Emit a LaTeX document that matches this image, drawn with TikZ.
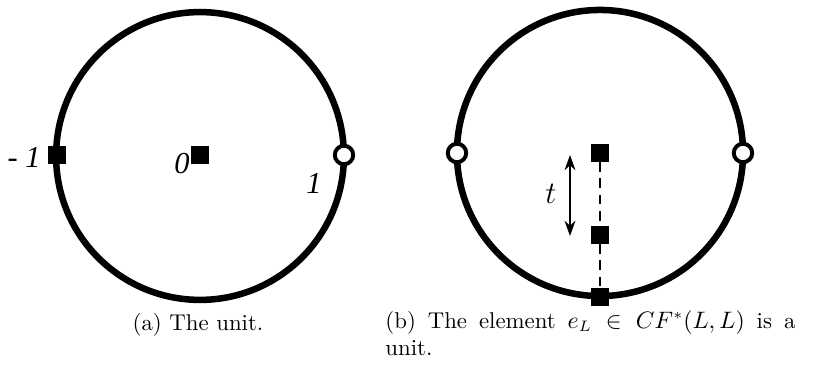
\documentclass[tikz,border=0pt]{standalone}
\usepackage{fontspec}
\newfontfamily\lblfont{Liberation Serif}
\usetikzlibrary{arrows.meta}
\begin{document}
\begin{tikzpicture}[x=0.46pt,y=-0.46pt,
  bigcirc/.style={line width=3pt},
  sq/.style={fill=black,minimum size=8.3pt,inner sep=0pt,outer sep=0pt},
  hole/.style={circle,draw=black,fill=white,line width=1.8pt,minimum size=8.5pt,inner sep=0pt},
  lbl/.style={font=\lblfont\itshape\fontsize{14}{16}\selectfont,inner sep=0pt},
  captext/.style={font=\fontsize{10.5}{12.4}\selectfont,inner sep=0pt}]
\useasboundingbox (0,0) rectangle (814,378);
% (a)
\coordinate (ca) at (200,156);
\draw[bigcirc] (ca) circle[radius=66.2pt];
\node[sq] (am) at (57,155) {};
\node[sq] (a0) at (200,155) {};
\node[hole] (a1) at (344,155) {};
\node[lbl] (lm) at (24,157) {- 1};
\node[lbl] (l0) at (182,164) {0};
\node[lbl] (l1) at (314,183) {1};
\node[captext] (capa) at (198,325) {(a) The unit.};
% (b)
\coordinate (cb) at (600,153);
\draw[bigcirc] (cb) circle[radius=65.8pt];
\node[hole] (bl) at (457,153) {};
\node[hole] (br) at (743,153) {};
\node[sq] (bt) at (600,153) {};
\node[sq] (bm) at (600,235) {};
\node[sq] (bb) at (600,297) {};
\draw[line width=0.9pt,dash pattern=on 4.5pt off 3pt] (bt) -- (bm);
\draw[line width=0.9pt,dash pattern=on 4.5pt off 3pt] (bm) -- (bb);
\coordinate (at) at (570,155);
\coordinate (ab) at (570,236);
\draw[line width=0.9pt,{Stealth[length=7pt,width=5pt]}-{Stealth[length=7pt,width=5pt]}] (at) -- (ab);
\node[font=\fontsize{14}{16}\selectfont,inner sep=0pt] (tl) at (551,194) {$t$};
\node[captext,anchor=north west,text width=188.6pt,align=justify] (capb) at (385,310)
 {(b) The element $e_L \in CF^*(L,L)$ is a\linebreak unit.};
\end{tikzpicture}
\end{document}
